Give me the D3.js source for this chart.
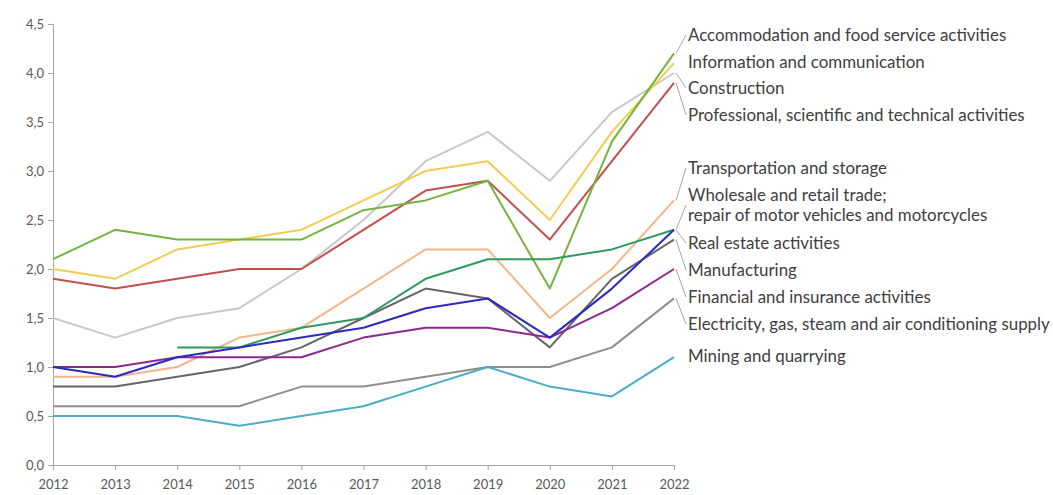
<!DOCTYPE html>
<html>
<head>
<meta charset="utf-8">
<script src="https://cdn.jsdelivr.net/npm/d3@7/dist/d3.min.js"></script>
<style>
  html, body { margin: 0; padding: 0; background: #ffffff; }
  svg { display: block; }
</style>
</head>
<body>
<svg id="chart" width="1053" height="495"></svg>
<script>
// ---------- DATA ----------
const years = [2012, 2013, 2014, 2015, 2016, 2017, 2018, 2019, 2020, 2021, 2022];
const yTicks = [0, 0.5, 1, 1.5, 2, 2.5, 3, 3.5, 4, 4.5];

const seriesNames = [
  "Accommodation and food service activities",
  "Information and communication",
  "Construction",
  "Professional, scientific and technical activities",
  "Transportation and storage",
  "Wholesale and retail trade;\nrepair of motor vehicles and motorcycles",
  "Real estate activities",
  "Manufacturing",
  "Financial and insurance activities",
  "Electricity, gas, steam and air conditioning supply",
  "Mining and quarrying"
];

const accommodation  = [2.1, 2.4, 2.3, 2.3, 2.3, 2.6, 2.7, 2.9, 1.8, 3.3, 4.2];
const information    = [2.0, 1.9, 2.2, 2.3, 2.4, 2.7, 3.0, 3.1, 2.5, 3.4, 4.1];
const construction   = [1.5, 1.3, 1.5, 1.6, 2.0, 2.5, 3.1, 3.4, 2.9, 3.6, 4.0];
const professional   = [1.9, 1.8, 1.9, 2.0, 2.0, 2.4, 2.8, 2.9, 2.3, 3.1, 3.9];
const transportation = [0.9, 0.9, 1.0, 1.3, 1.4, 1.8, 2.2, 2.2, 1.5, 2.0, 2.7];
const wholesale      = [null, null, 1.2, 1.2, 1.4, 1.5, 1.9, 2.1, 2.1, 2.2, 2.4];
const realEstate     = [1.0, 0.9, 1.1, 1.2, 1.3, 1.4, 1.6, 1.7, 1.3, 1.8, 2.4];
const manufacturing  = [0.8, 0.8, 0.9, 1.0, 1.2, 1.5, 1.8, 1.7, 1.2, 1.9, 2.3];
const financial      = [1.0, 1.0, 1.1, 1.1, 1.1, 1.3, 1.4, 1.4, 1.3, 1.6, 2.0];
const electricity    = [0.6, 0.6, 0.6, 0.6, 0.8, 0.8, 0.9, 1.0, 1.0, 1.2, 1.7];
const mining         = [0.5, 0.5, 0.5, 0.4, 0.5, 0.6, 0.8, 1.0, 0.8, 0.7, 1.1];

const seriesValues = [accommodation, information, construction, professional, transportation,
  wholesale, realEstate, manufacturing, financial, electricity, mining];

// ---------- STYLE / LAYOUT ----------
const seriesColors = ["#74b43e", "#f2cd52", "#c8c8c8", "#c0504d", "#f4b58a",
  "#2f9a5e", "#2a2ac0", "#666666", "#8a2a8e", "#8f8f8a", "#4bacc6"];
// label row y-positions (pixels), one per series (first line of text)
const labelRows = [35, 62, 88, 115, 168, 195, 243, 270, 297, 324, 356];
const drawOrder = [2, 1, 3, 0, 4, 9, 10, 7, 8, 5, 6];

const svg = d3.select("#chart");
const x = d3.scaleLinear().domain([2012, 2022]).range([53, 674]);
const y = d3.scaleLinear().domain([0, 4.5]).range([465, 24]);

const axisColor = "#a6a6a6";
const textColor = "#595959";
const fontFam = "Lato, 'Open Sans', sans-serif";

// Y axis
const yAxis = svg.append("g").attr("transform", `translate(${x(2012)},0)`)
  .call(d3.axisLeft(y).tickValues(yTicks).tickSize(5).tickPadding(4)
    .tickFormat(d => d3.format(".1f")(d).replace(".", ",")));
yAxis.select(".domain").attr("stroke", axisColor);
yAxis.selectAll(".tick line").attr("stroke", axisColor);
yAxis.selectAll("text").attr("fill", textColor).attr("font-size", 13).attr("font-family", fontFam);

// X axis
const xAxis = svg.append("g").attr("transform", `translate(0,${y(0)})`)
  .call(d3.axisBottom(x).tickValues(years).tickSize(5).tickPadding(10)
    .tickFormat(d3.format("d")));
xAxis.select(".domain").attr("stroke", axisColor);
xAxis.selectAll(".tick line").attr("stroke", axisColor);
xAxis.selectAll("text").attr("fill", textColor).attr("font-size", 13).attr("font-family", fontFam);

// Lines
const line = d3.line()
  .defined(d => d.v !== null)
  .x(d => x(d.year))
  .y(d => y(d.v));

drawOrder.forEach(i => {
  const pts = years.map((yr, k) => ({ year: yr, v: seriesValues[i][k] }));
  svg.append("path")
    .datum(pts)
    .attr("fill", "none")
    .attr("stroke", seriesColors[i])
    .attr("stroke-width", 2)
    .attr("stroke-linejoin", "round")
    .attr("d", line);
});

// Labels with leader lines
const labelX = 688;
const lg = svg.append("g");
seriesNames.forEach((name, i) => {
  const vals = seriesValues[i];
  const endV = vals[vals.length - 1];
  const yEnd = y(endV);
  const lines = name.split("\n");
  const yLab = labelRows[i];
  const yTarget = lines.length > 1 ? yLab + 10 : yLab;
  if (Math.abs(yTarget - yEnd) > 4) {
    lg.append("path")
      .attr("d", `M${x(2022) + 2},${yEnd} L${labelX - 2},${yTarget}`)
      .attr("fill", "none").attr("stroke", axisColor).attr("stroke-width", 1);
  }
  lines.forEach((t, k) => {
    lg.append("text")
      .attr("class", "lbl")
      .attr("x", labelX)
      .attr("y", yLab + k * 20)
      .attr("dy", "0.35em")
      .attr("fill", "#404040")
      .attr("font-family", fontFam)
      .attr("font-size", 13.5)
      .text(t);
  });
});

// fit label font so the longest label spans like the reference
let maxW = 0;
lg.selectAll("text.lbl").each(function () { maxW = Math.max(maxW, this.getComputedTextLength()); });
const targetW = 362;
if (maxW > 0) {
  const fs = 13.5 * targetW / maxW;
  lg.selectAll("text.lbl").attr("font-size", fs.toFixed(2));
}
</script>
</body>
</html>
